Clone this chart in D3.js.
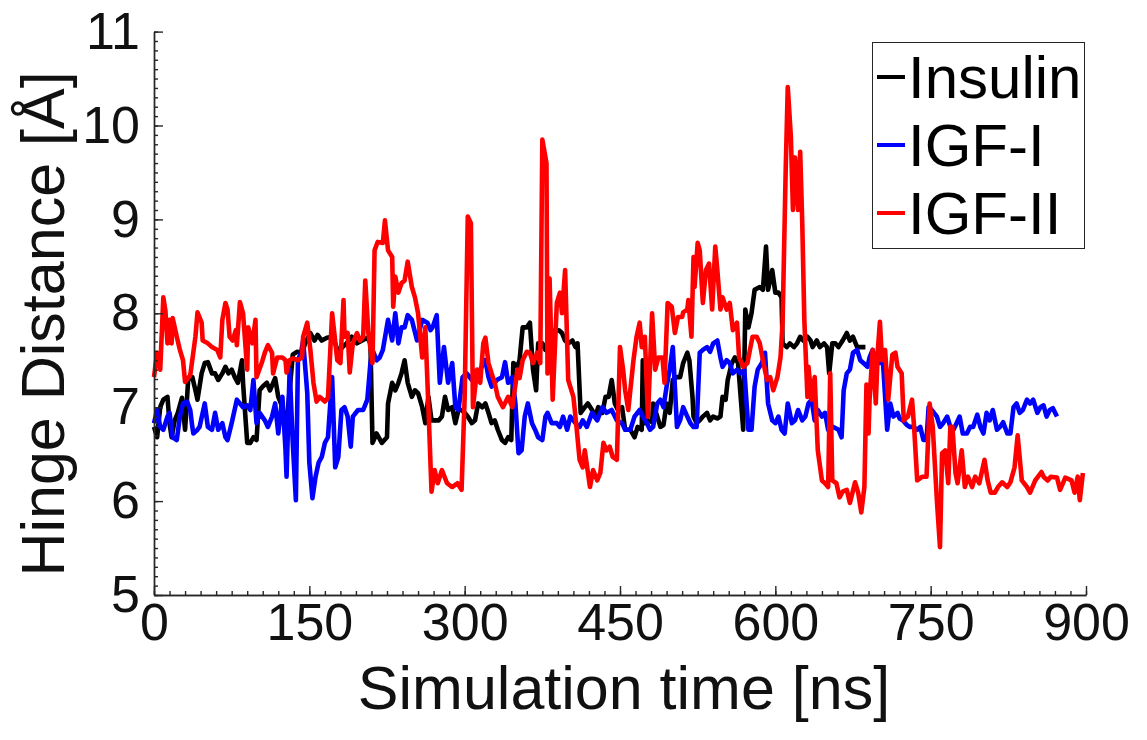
<!DOCTYPE html>
<html><head><meta charset="utf-8">
<script src="https://cdn.jsdelivr.net/npm/d3@7"></script>
<style>
body{margin:0;background:#fff}
svg{display:block}
text{font-family:"Liberation Sans",Arial,Helvetica,sans-serif}
</style>
</head><body>
<svg id="chart" width="1147" height="740"></svg>
<script>
// ---- data: [time (ns), hinge distance (Å)] ----
const insulinSeries = [[0,6.79],[3,6.68],[6,7.0],[9,7.08],[13,7.11],[15,6.83],[17,6.68],[20,6.86],[23,6.94],[27,7.1],[30,6.76],[33,7.29],[37,7.32],[40,7.18],[42,7.08],[46,7.36],[49,7.47],[52,7.48],[56,7.36],[59,7.36],[62,7.29],[66,7.36],[69,7.43],[72,7.36],[75,7.4],[78,7.32],[81,7.26],[85,7.5],[86,7.26],[90,6.62],[93,6.62],[96,6.68],[99,6.65],[102,7.18],[105,7.22],[109,7.26],[112,7.18],[117,7.31],[120,7.11],[124,7.0],[127,6.79],[129,6.94],[133,7.43],[134,7.56],[138,7.59],[143,7.58],[146,7.68],[151,7.79],[155,7.71],[158,7.77],[162,7.71],[167,7.74],[172,7.75],[175,7.68],[178,7.58],[182,7.64],[186,7.68],[191,7.75],[196,7.68],[201,7.71],[206,7.74],[209,7.68],[211,6.62],[215,6.72],[220,6.62],[225,6.68],[226,7.04],[230,7.26],[233,7.18],[236,7.26],[239,7.36],[242,7.5],[245,7.26],[249,7.11],[252,7.18],[255,7.15],[259,7.0],[262,6.83],[265,7.11],[268,6.86],[272,6.86],[275,6.86],[278,6.9],[281,7.11],[284,6.97],[288,7.0],[291,6.83],[294,6.97],[297,6.97],[300,6.94],[303,6.9],[307,6.83],[310,6.86],[313,7.04],[317,7.0],[320,7.04],[323,6.94],[326,6.83],[329,6.86],[332,6.76],[336,6.65],[339,6.62],[342,6.68],[345,6.65],[347,7.47],[351,7.43],[353,7.5],[356,7.85],[360,7.85],[363,7.9],[366,7.4],[369,7.18],[371,7.68],[375,7.68],[378,7.61],[380,7.64],[384,7.68],[387,7.82],[391,7.82],[394,7.79],[397,7.71],[400,7.68],[404,7.71],[407,7.64],[409,7.68],[412,6.94],[416,7.0],[419,7.04],[423,6.97],[426,6.9],[429,7.0],[433,6.94],[436,7.11],[439,7.11],[442,7.29],[445,7.04],[448,6.97],[452,7.0],[455,6.76],[460,6.76],[464,6.68],[467,6.79],[471,6.76],[472,7.5],[474,6.83],[477,6.86],[481,6.84],[482,7.04],[486,6.9],[489,6.79],[492,6.81],[495,7.04],[498,6.94],[501,7.29],[505,7.32],[508,7.32],[511,7.47],[515,7.58],[517,7.5],[520,7.11],[521,6.9],[524,6.83],[527,6.86],[530,6.9],[534,6.94],[537,6.86],[540,6.9],[544,6.88],[547,6.9],[549,7.11],[552,7.08],[554,7.29],[558,7.47],[561,7.53],[564,7.47],[569,6.76],[571,8.04],[574,7.85],[577,8.0],[580,8.25],[585,8.28],[588,8.25],[591,8.71],[593,8.25],[597,8.46],[600,8.22],[603,8.22],[606,8.17],[607,7.68],[611,7.64],[614,7.68],[618,7.64],[621,7.68],[624,7.75],[627,7.71],[631,7.75],[634,7.71],[636,7.64],[640,7.71],[643,7.64],[647,7.68],[650,7.64],[652,7.36],[655,7.68],[658,7.68],[661,7.64],[665,7.71],[669,7.79],[672,7.71],[675,7.75],[679,7.64],[682,7.64],[687,7.64]];

const igf1Series = [[0,6.83],[3,6.97],[6,6.79],[9,6.76],[13,6.9],[15,6.94],[18,6.68],[22,6.65],[25,6.9],[28,7.04],[32,7.06],[35,6.97],[37,6.79],[38,6.72],[42,6.76],[44,6.79],[49,7.04],[52,6.79],[56,6.76],[59,6.94],[62,6.76],[66,6.83],[69,6.68],[71,6.65],[75,6.83],[80,7.08],[83,7.04],[86,7.0],[90,7.02],[93,6.97],[96,7.29],[99,6.83],[102,6.94],[107,6.86],[110,6.79],[114,6.9],[117,7.04],[120,6.72],[124,7.11],[127,6.54],[128,6.26],[131,7.4],[134,6.62],[137,6.01],[139,7.5],[142,7.58],[144,7.71],[148,7.15],[150,6.41],[153,6.03],[156,6.26],[159,6.41],[162,6.47],[165,6.62],[168,6.68],[172,7.32],[175,6.36],[178,6.47],[181,6.97],[184,7.0],[187,6.9],[190,6.58],[192,6.9],[197,6.97],[202,6.97],[206,7.08],[209,7.47],[211,7.61],[215,7.5],[218,7.53],[221,7.61],[226,7.93],[230,7.71],[233,8.0],[236,7.68],[239,7.85],[242,7.85],[245,7.98],[249,7.93],[254,7.71],[259,7.93],[264,7.9],[267,7.82],[269,7.85],[273,7.98],[276,7.26],[280,7.64],[284,7.26],[288,7.47],[291,7.0],[294,6.97],[298,7.32],[302,7.36],[307,7.29],[312,7.32],[315,7.4],[320,7.5],[323,7.32],[326,7.22],[331,7.29],[336,7.32],[339,7.48],[342,7.26],[346,7.32],[349,7.04],[352,6.51],[355,6.54],[358,6.9],[361,7.04],[365,6.83],[368,6.76],[371,6.68],[375,6.65],[378,6.9],[380,6.94],[384,6.83],[389,6.83],[392,6.79],[395,6.9],[399,6.76],[402,6.9],[407,6.83],[411,6.79],[414,6.86],[418,6.79],[423,6.94],[428,6.86],[433,7.0],[437,6.94],[442,6.97],[447,6.86],[452,6.83],[455,6.76],[460,6.76],[464,6.9],[469,6.97],[472,6.9],[476,6.83],[479,6.76],[482,6.79],[486,7.04],[489,7.08],[492,7.0],[495,7.22],[498,7.4],[501,7.64],[503,7.22],[505,6.79],[508,6.86],[511,7.0],[515,6.9],[518,6.83],[521,6.79],[524,6.79],[527,7.58],[530,7.61],[534,7.64],[537,7.59],[540,7.68],[544,7.71],[547,7.53],[549,7.43],[553,7.5],[556,7.47],[559,7.36],[563,7.4],[566,7.36],[570,7.4],[574,6.76],[577,6.76],[580,7.22],[583,7.4],[587,7.47],[590,7.58],[593,7.04],[597,6.86],[600,6.83],[603,6.9],[606,6.76],[609,6.72],[612,7.04],[616,6.83],[619,6.86],[622,6.97],[626,6.86],[629,6.9],[632,7.04],[635,7.08],[638,6.86],[641,6.97],[645,6.9],[648,6.94],[651,6.76],[656,6.79],[661,6.76],[664,6.68],[666,7.18],[669,7.36],[672,7.4],[675,7.58],[679,7.61],[682,7.5],[685,7.47],[689,7.43],[691,7.53],[694,7.61],[698,7.47],[704,7.47],[708,6.76],[711,7.04],[714,6.9],[718,6.94],[720,6.88],[723,6.86],[727,6.81],[730,6.79],[733,6.79],[737,6.76],[740,6.79],[743,6.65],[746,6.65],[748,7.0],[751,6.97],[756,6.9],[759,6.79],[762,6.83],[766,6.9],[769,6.79],[772,6.76],[775,6.83],[778,6.9],[781,6.72],[785,6.72],[788,6.79],[791,6.79],[795,6.92],[798,6.79],[801,6.72],[804,6.94],[807,6.86],[810,6.97],[814,6.76],[817,6.79],[820,6.84],[824,6.72],[827,6.72],[830,7.0],[833,7.04],[836,6.94],[839,6.97],[843,7.08],[846,7.04],[849,7.08],[853,6.94],[856,7.0],[859,7.02],[862,6.9],[865,6.97],[868,6.99],[872,6.9]];

const igf2Series = [[0,7.32],[3,7.58],[6,7.4],[9,8.17],[11,8.03],[13,7.68],[15,7.93],[17,7.68],[18,7.95],[22,7.75],[25,7.61],[28,7.5],[30,7.27],[35,7.34],[40,7.75],[42,8.01],[46,7.9],[47,7.71],[52,7.68],[56,7.64],[61,7.61],[64,7.53],[66,7.93],[69,8.11],[71,8.04],[73,7.75],[76,7.71],[79,7.82],[80,7.66],[83,8.12],[86,8.0],[90,7.4],[91,7.85],[95,7.68],[98,7.93],[99,7.32],[104,7.47],[107,7.58],[110,7.66],[114,7.58],[115,7.36],[119,7.53],[124,7.53],[127,7.5],[128,7.37],[131,7.5],[134,7.52],[139,7.5],[143,7.53],[144,7.75],[148,7.9],[151,7.61],[154,7.26],[157,7.06],[160,7.11],[165,7.06],[168,7.1],[172,8.0],[177,7.5],[180,7.47],[183,8.14],[184,7.75],[187,7.79],[189,7.37],[192,7.68],[196,7.79],[199,7.71],[202,7.75],[204,8.35],[207,7.79],[211,7.47],[213,8.67],[216,8.76],[221,8.75],[223,8.99],[226,8.67],[230,8.6],[231,8.07],[233,8.39],[236,8.22],[239,8.32],[242,8.35],[245,8.55],[249,8.28],[252,8.17],[255,8.0],[259,7.53],[262,7.85],[265,7.0],[268,6.1],[271,6.33],[274,6.19],[278,6.33],[283,6.19],[288,6.15],[293,6.19],[297,6.12],[300,7.11],[303,9.03],[306,8.96],[308,7.0],[312,7.4],[315,7.26],[318,7.68],[320,7.74],[323,7.47],[326,7.36],[329,7.26],[332,7.11],[337,7.0],[342,7.11],[346,7.0],[351,7.4],[353,7.31],[356,7.5],[360,7.59],[363,7.58],[366,7.47],[370,7.58],[373,7.47],[375,9.85],[379,9.6],[380,7.36],[382,8.37],[385,7.08],[389,8.11],[392,8.22],[394,8.0],[397,8.46],[400,7.29],[405,7.11],[408,6.79],[411,6.44],[414,6.36],[416,6.54],[421,6.15],[424,6.33],[428,6.22],[431,6.3],[434,6.62],[437,6.54],[440,6.58],[443,6.47],[447,6.44],[450,7.64],[453,7.4],[455,7.18],[458,6.97],[463,7.5],[466,7.75],[469,7.9],[471,7.64],[474,7.75],[477,6.9],[481,8.0],[484,7.4],[487,7.53],[491,7.53],[493,7.26],[496,8.11],[500,8.07],[503,7.79],[506,7.96],[510,7.96],[511,8.01],[515,8.04],[516,8.14],[519,7.75],[521,8.6],[522,8.28],[525,8.75],[527,8.67],[530,8.11],[533,8.46],[536,8.53],[539,8.04],[542,8.71],[544,8.46],[547,8.04],[549,8.17],[553,8.04],[556,8.11],[559,7.82],[563,7.9],[565,7.53],[569,7.43],[573,7.47],[576,7.64],[578,7.75],[582,7.75],[585,7.68],[588,7.5],[592,7.29],[595,7.32],[598,7.18],[602,7.32],[605,7.53],[607,7.9],[610,9.52],[612,10.41],[615,9.88],[617,9.1],[619,9.66],[622,9.1],[624,9.72],[626,8.96],[628,7.93],[631,7.11],[632,7.43],[635,7.08],[638,7.32],[641,6.54],[645,6.22],[648,6.19],[651,6.15],[653,7.36],[655,6.22],[659,6.19],[662,6.04],[665,6.1],[669,6.12],[672,5.98],[677,6.2],[680,6.09],[683,5.88],[686,6.15],[688,7.24],[690,6.72],[691,7.08],[694,7.61],[697,7.04],[699,7.61],[701,7.91],[703,7.5],[706,7.61],[709,7.08],[713,7.56],[716,7.58],[718,7.43],[722,7.36],[724,6.86],[728,6.9],[732,7.08],[734,6.79],[737,6.22],[742,6.26],[746,6.26],[749,7.04],[752,6.79],[756,6.01],[759,5.51],[761,6.51],[764,6.54],[767,6.19],[769,6.79],[771,6.79],[774,6.3],[776,6.19],[780,6.54],[783,6.15],[786,6.26],[790,6.15],[793,6.26],[797,6.19],[802,6.44],[805,6.22],[808,6.09],[812,6.09],[815,6.15],[819,6.2],[824,6.15],[827,6.2],[831,6.36],[834,6.7],[838,6.22],[843,6.15],[846,6.09],[851,6.22],[857,6.31],[859,6.26],[863,6.22],[866,6.26],[872,6.25],[875,6.12],[880,6.25],[886,6.22],[889,6.09],[892,6.26],[894,6.01],[897,6.3]];

const seriesNames = ["Insulin", "IGF-I", "IGF-II"];
const seriesColors = ["#000000", "#0000ff", "#ff0000"];
const xTicks = [0, 150, 300, 450, 600, 750, 900];
const yTicks = [5, 6, 7, 8, 9, 10, 11];
const xLabel = "Simulation time [ns]";
const yLabel = "Hinge Distance [Å]";

// ---- drawing ----
const svg = d3.select("#chart");
const x = d3.scaleLinear().domain([0, 900]).range([154, 1086]);
const y = d3.scaleLinear().domain([5, 11]).range([595, 31.6]);
const axisColor = "#262626";
const tickFont = 52, titleFont = 61, legendFont = 60;

const allSeries = [insulinSeries, igf1Series, igf2Series];
const line = d3.line().x(d => x(d[0])).y(d => y(d[1]));

svg.append("g").selectAll("path").data(allSeries).join("path")
  .attr("d", line)
  .attr("fill", "none")
  .attr("stroke", (d, i) => seriesColors[i])
  .attr("stroke-width", 4.6)
  .attr("stroke-linejoin", "round");

// minor ticks
svg.append("g").attr("transform", "translate(0,595)")
  .call(d3.axisBottom(x).tickValues(d3.range(0, 901, 15)).tickSize(-4).tickSizeOuter(0).tickFormat(""))
  .call(g => g.selectAll("line,path").attr("stroke", axisColor).attr("stroke-width", 1.4));
svg.append("g").attr("transform", "translate(154,0)")
  .call(d3.axisLeft(y).tickValues(d3.range(50, 111, 1).map(v => v / 10)).tickSize(-4).tickSizeOuter(0).tickFormat(""))
  .call(g => g.selectAll("line,path").attr("stroke", axisColor).attr("stroke-width", 1.4));

// major ticks + labels
svg.append("g").attr("transform", "translate(0,595)")
  .call(d3.axisBottom(x).tickValues(xTicks).tickSize(-9).tickSizeOuter(0).tickPadding(8).tickFormat(d3.format("d")))
  .call(g => g.selectAll("line,path").attr("stroke", axisColor).attr("stroke-width", 1.4))
  .call(g => g.selectAll("text").attr("fill", "#111").attr("font-size", tickFont).attr("font-family", "Liberation Sans, Arial, sans-serif"));
svg.append("g").attr("transform", "translate(154,0)")
  .call(d3.axisLeft(y).tickValues(yTicks).tickSize(-9).tickSizeOuter(0).tickPadding(14).tickFormat(d3.format("d")))
  .call(g => g.selectAll("line,path").attr("stroke", axisColor).attr("stroke-width", 1.4))
  .call(g => g.selectAll("text").attr("fill", "#111").attr("font-size", tickFont).attr("font-family", "Liberation Sans, Arial, sans-serif"));

// axis titles
svg.append("text").attr("x", 624).attr("y", 709).attr("text-anchor", "middle")
  .attr("font-size", titleFont).attr("fill", "#111").text(xLabel);
svg.append("text").attr("transform", "translate(64,324) rotate(-90)").attr("text-anchor", "middle")
  .attr("font-size", titleFont).attr("fill", "#111").text(yLabel);

// legend
const lg = svg.append("g");
lg.append("rect").attr("x", 872.5).attr("y", 42.5).attr("width", 212).attr("height", 206)
  .attr("fill", "#fff").attr("stroke", axisColor).attr("stroke-width", 1);
const rows = [77, 145, 213];
seriesNames.forEach((name, i) => {
  lg.append("line").attr("x1", 877).attr("x2", 905).attr("y1", rows[i]).attr("y2", rows[i])
    .attr("stroke", seriesColors[i]).attr("stroke-width", 4);
  lg.append("text").attr("x", 908).attr("y", rows[i] + 21).attr("font-size", legendFont)
    .attr("fill", "#000").text(name);
});
</script>
</body></html>
